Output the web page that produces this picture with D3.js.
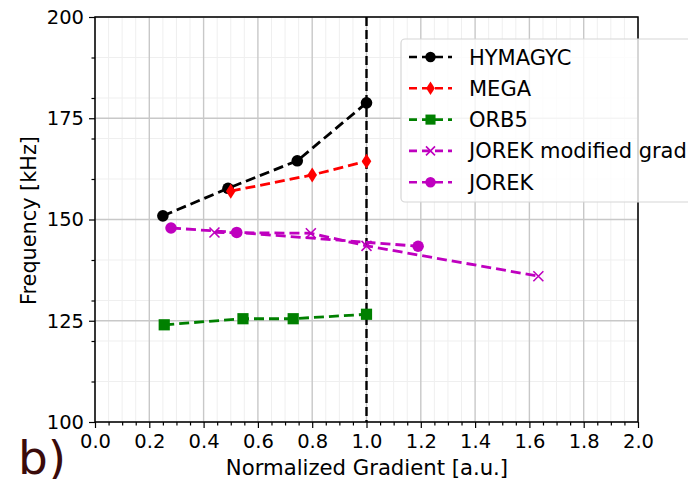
<!DOCTYPE html>
<html lang="en">
<head>
<meta charset="utf-8">
<script src="https://cdn.jsdelivr.net/npm/d3@7"></script>
<style>
  body { margin: 0; background: #fff; }
  svg { font-family: "DejaVu Sans", sans-serif; }
</style>
</head>
<body>
<div id="chart"></div>
<script>
// data
const hymagycX = [0.25, 0.49, 0.745, 1.0]
const hymagycY = [150.9, 157.7, 164.5, 178.8]
const megaX = [0.5, 0.8, 1.0]
const megaY = [157.0, 161.0, 164.4]
const orb5X = [0.255, 0.545, 0.73, 1.0]
const orb5Y = [124.0, 125.5, 125.5, 126.6]
const jorekModX = [0.44, 0.795, 1.0, 1.633]
const jorekModY = [146.8, 146.6, 143.5, 136.0]
const jorekX = [0.28, 0.522, 1.19]
const jorekY = [147.9, 146.8, 143.4]

const xTicks = [0.0, 0.2, 0.4, 0.6, 0.8, 1.0, 1.2, 1.4, 1.6, 1.8, 2.0]
const yTicks = [100, 125, 150, 175, 200]
const yMinor = [110, 120, 130, 140, 160, 170, 180, 190]
const gradRef = 1.0

const series = [
  { name: 'HYMAGYC', xs: hymagycX, ys: hymagycY, color: '#000000', marker: 'circle' },
  { name: 'MEGA', xs: megaX, ys: megaY, color: '#ff0000', marker: 'diamond' },
  { name: 'ORB5', xs: orb5X, ys: orb5Y, color: '#008000', marker: 'square' },
  { name: 'JOREK modified grad', xs: jorekModX, ys: jorekModY, color: '#bf00bf', marker: 'x' },
  { name: 'JOREK', xs: jorekX, ys: jorekY, color: '#bf00bf', marker: 'circle' }
]

const w = 688, h = 479
const pLeft = 95, pRight = 638, pTop = 17, pBottom = 422

const svg = d3.select('#chart').append('svg')
  .attr('width', w).attr('height', h)

const x = d3.scaleLinear().domain([0, 2]).range([pLeft, pRight])
const y = d3.scaleLinear().domain([100, 200]).range([pBottom, pTop])

const xMinor = d3.range(0, 41).map(i => i * 0.05).filter(v => Math.round(v * 100) % 20 !== 0)

// grid
const grid = svg.append('g')
grid.selectAll('.vminor').data(xMinor).enter().append('line')
  .attr('x1', d => x(d)).attr('x2', d => x(d)).attr('y1', pTop).attr('y2', pBottom)
  .attr('stroke', '#efefef').attr('stroke-width', 1)
grid.selectAll('.hminor').data(yMinor).enter().append('line')
  .attr('x1', pLeft).attr('x2', pRight).attr('y1', d => y(d)).attr('y2', d => y(d))
  .attr('stroke', '#efefef').attr('stroke-width', 1)
grid.selectAll('.vmajor').data(xTicks).enter().append('line')
  .attr('x1', d => x(d)).attr('x2', d => x(d)).attr('y1', pTop).attr('y2', pBottom)
  .attr('stroke', '#c8c8c8').attr('stroke-width', 1.4)
grid.selectAll('.hmajor').data(yTicks).enter().append('line')
  .attr('x1', pLeft).attr('x2', pRight).attr('y1', d => y(d)).attr('y2', d => y(d))
  .attr('stroke', '#c8c8c8').attr('stroke-width', 1.4)

// axes
const xAxis = d3.axisBottom(x).tickValues(xTicks).tickFormat(d3.format('.1f')).tickSize(6).tickPadding(6)
const xAxisMinor = d3.axisBottom(x).tickValues(xMinor).tickFormat('').tickSize(3.5)
const yAxis = d3.axisLeft(y).tickValues(yTicks).tickFormat(d3.format('d')).tickSize(6).tickPadding(5)
const yAxisMinor = d3.axisLeft(y).tickValues(yMinor).tickFormat('').tickSize(3.5)

function styleAxis(g) {
  g.select('.domain').remove()
  g.selectAll('line').attr('stroke', '#000').attr('stroke-width', 1.2)
  g.selectAll('text').attr('font-size', 19.5).attr('fill', '#000')
    .attr('font-family', '"DejaVu Sans", sans-serif')
}
svg.append('g').attr('transform', 'translate(0,' + pBottom + ')').call(xAxisMinor).call(styleAxis)
svg.append('g').attr('transform', 'translate(0,' + pBottom + ')').call(xAxis).call(styleAxis)
svg.append('g').attr('transform', 'translate(' + pLeft + ',0)').call(yAxisMinor).call(styleAxis)
svg.append('g').attr('transform', 'translate(' + pLeft + ',0)').call(yAxis).call(styleAxis)

// frame
svg.append('rect').attr('x', pLeft).attr('y', pTop)
  .attr('width', pRight - pLeft).attr('height', pBottom - pTop)
  .attr('fill', 'none').attr('stroke', '#000').attr('stroke-width', 1.5)

// reference gradient line
svg.append('line')
  .attr('x1', x(gradRef)).attr('x2', x(gradRef)).attr('y1', pTop).attr('y2', pBottom)
  .attr('stroke', '#000').attr('stroke-width', 2.4).attr('stroke-dasharray', '9,4')

function drawMarker(g, type, cx, cy, color, s) {
  if (type === 'circle') {
    g.append('circle').attr('cx', cx).attr('cy', cy).attr('r', 5.8 * s).attr('fill', color)
  } else if (type === 'square') {
    g.append('rect').attr('x', cx - 5.6 * s).attr('y', cy - 5.6 * s)
      .attr('width', 11.2 * s).attr('height', 11.2 * s).attr('fill', color)
  } else if (type === 'diamond') {
    g.append('path').attr('d', 'M' + cx + ',' + (cy - 7.5 * s) + 'L' + (cx + 4.8 * s) + ',' + cy +
      'L' + cx + ',' + (cy + 7.5 * s) + 'L' + (cx - 4.8 * s) + ',' + cy + 'Z').attr('fill', color)
  } else if (type === 'x') {
    const r = 5 * s
    g.append('path').attr('d', 'M' + (cx - r) + ',' + (cy - r) + 'L' + (cx + r) + ',' + (cy + r) +
      'M' + (cx - r) + ',' + (cy + r) + 'L' + (cx + r) + ',' + (cy - r))
      .attr('stroke', color).attr('stroke-width', 1.6).attr('fill', 'none')
  }
}

const line = d3.line().x(d => x(d[0])).y(d => y(d[1]))

series.forEach(function(s) {
  const pts = s.xs.map((v, i) => [v, s.ys[i]])
  const g = svg.append('g')
  g.append('path').datum(pts).attr('d', line)
    .attr('fill', 'none').attr('stroke', s.color).attr('stroke-width', 2.8)
    .attr('stroke-dasharray', '10,5')
  pts.forEach(p => drawMarker(g, s.marker, x(p[0]), y(p[1]), s.color, 1))
})

// legend
const leg = svg.append('g')
leg.append('rect').attr('x', 401).attr('y', 39).attr('width', 320).attr('height', 163)
  .attr('rx', 4).attr('fill', '#fff').attr('fill-opacity', 0.8)
  .attr('stroke', '#d6d6d6').attr('stroke-width', 1.2)
series.forEach(function(s, i) {
  const ly = 57 + i * 31.3
  leg.append('line').attr('x1', 409).attr('x2', 452).attr('y1', ly).attr('y2', ly)
    .attr('stroke', s.color).attr('stroke-width', 2.6).attr('stroke-dasharray', '8,5')
  drawMarker(leg, s.marker, 430.5, ly, s.color, 0.9)
  leg.append('text').attr('x', 469).attr('y', ly + 7.5)
    .attr('font-size', 21).attr('fill', '#000').text(s.name)
})

// axis labels
svg.append('text').attr('x', (pLeft + pRight) / 2 + 0.5).attr('y', 475)
  .attr('text-anchor', 'middle').attr('font-size', 21.2).text('Normalized Gradient [a.u.]')
svg.append('text').attr('transform', 'translate(36,' + ((pTop + pBottom) / 2 + 1) + ') rotate(-90)')
  .attr('text-anchor', 'middle').attr('font-size', 20.8).text('Frequency [kHz]')

// panel tag
svg.append('text').attr('x', 18).attr('y', 474)
  .attr('font-size', 47).attr('fill', '#3a0b0b').text('b)')
</script>
</body>
</html>
